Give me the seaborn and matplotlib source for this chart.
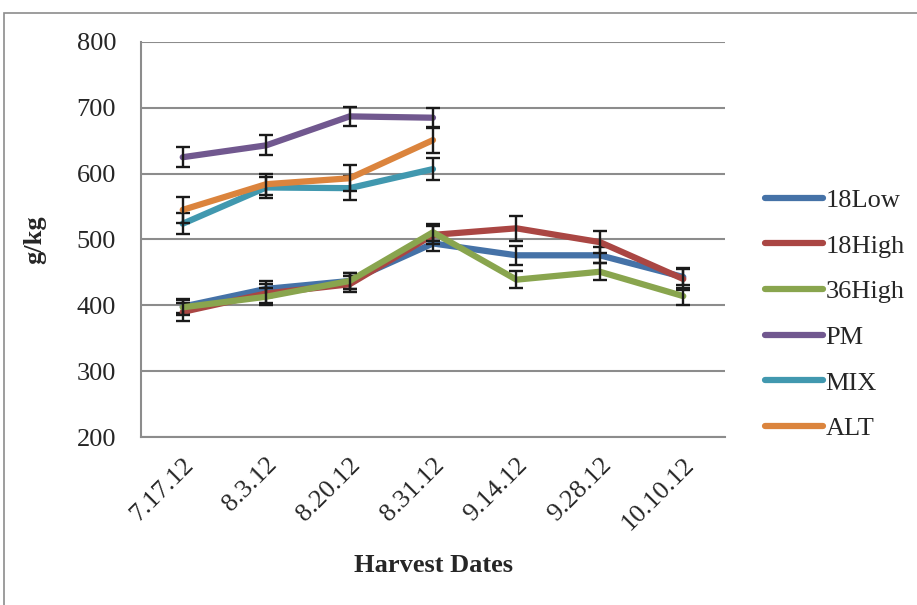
import numpy as np
import pandas as pd
import matplotlib
matplotlib.use("Agg")
import matplotlib.pyplot as plt
import seaborn as sns
from matplotlib.patches import Rectangle

dates = ["7.17.12", "8.3.12", "8.20.12", "8.31.12", "9.14.12", "9.28.12", "10.10.12"]
series_names = ["18Low", "18High", "36High", "PM", "MIX", "ALT"]

low18 = [398, 425, 437, 494, 476, 476, 443]
high18 = [390, 418, 432, 507, 517, 496, 440]
high36 = [397, 413, 437, 511, 439, 451, 414]
pm = [625, 643, 687, 685, np.nan, np.nan, np.nan]
mix = [524, 579, 578, 607, np.nan, np.nan, np.nan]
alt = [545, 584, 593, 651, np.nan, np.nan, np.nan]

err_low18 = [10, 12, 12, 12, 14, 12, 12]
err_high18 = [14, 14, 12, 14, 19, 17, 17]
err_high36 = [12, 13, 12, 13, 13, 13, 13]
err_pm = [15, 15, 15, 15, np.nan, np.nan, np.nan]
err_mix = [16, 16, 18, 17, np.nan, np.nan, np.nan]
err_alt = [20, 16, 20, 20, np.nan, np.nan, np.nan]

values = [low18, high18, high36, pm, mix, alt]
errors = [err_low18, err_high18, err_high36, err_pm, err_mix, err_alt]
colors = ["#4572A7", "#AA4643", "#89A54E", "#71588F", "#4198AF", "#DB843D"]

rows = []
for name, vals, errs in zip(series_names, values, errors):
    for i, (v, e) in enumerate(zip(vals, errs)):
        if not np.isnan(v):
            rows.append({"pos": i, "date": dates[i], "series": name, "value": v, "err": e})
df = pd.DataFrame(rows)

sns.set_style("white")
plt.rcParams['font.family'] = ['Liberation Serif', 'DejaVu Serif']

FS = 19
fig = plt.figure(figsize=(9.17, 6.05), dpi=100)
ax = fig.add_axes([141/917, 1 - 437/605, (725 - 141)/917, (437 - 42)/605])

# figure border
fig.patches.append(Rectangle((4/917, -0.05), 1.0, (605 - 13)/605 + 0.05,
                             transform=fig.transFigure, fill=False,
                             edgecolor="#8c8c8c", linewidth=1.2, zorder=-10))

for k, (name, col) in enumerate(zip(series_names, colors)):
    sub = df[df.series == name]
    sns.lineplot(data=sub, x="pos", y="value", color=col, linewidth=4.5,
                 ax=ax, label=name, zorder=3 + k, solid_capstyle="round")
    ax.errorbar(sub["pos"], sub["value"], yerr=sub["err"], fmt="none",
                ecolor="#1a1a1a", elinewidth=1.7, capsize=5, capthick=1.7,
                zorder=3.5 + k)

ax.set_xlim(-0.5, 6.5)
ax.set_ylim(200, 800)
ax.set_yticks(range(200, 801, 100))
ax.set_xticks(range(len(dates)))
ax.set_xticklabels(dates, rotation=45, ha="right", rotation_mode="anchor")
ax.set_xticks(np.arange(-0.5, 7.0, 1.0), minor=True)
ax.tick_params(axis="x", which="major", length=0, pad=12, labelsize=FS)
ax.tick_params(axis="x", which="minor", length=7, width=1.2, color="#8c8c8c", direction="out")
ax.tick_params(axis="y", which="major", length=6, width=1.2, color="#8c8c8c", direction="out", labelsize=FS, pad=12)

ax.grid(axis="y", color="#8c8c8c", linewidth=1.5)
ax.set_axisbelow(True)
for s in ["top", "right"]:
    ax.spines[s].set_visible(False)
for s in ["left", "bottom"]:
    ax.spines[s].set_color("#8c8c8c")
    ax.spines[s].set_linewidth(1.5)

ax.set_xlabel("Harvest Dates", fontsize=FS, fontweight="bold", labelpad=14)
ax.set_ylabel("g/kg", fontsize=FS, fontweight="bold", labelpad=22)

leg = ax.legend(loc="upper left", bbox_to_anchor=(754/917, 1 - 178/605),
                bbox_transform=fig.transFigure, frameon=False, fontsize=FS,
                handlelength=2.2, handletextpad=0.1, labelspacing=0.84,
                borderaxespad=0)
for line in leg.get_lines():
    line.set_linewidth(4.5)

fig.savefig("out.png", dpi=100)
